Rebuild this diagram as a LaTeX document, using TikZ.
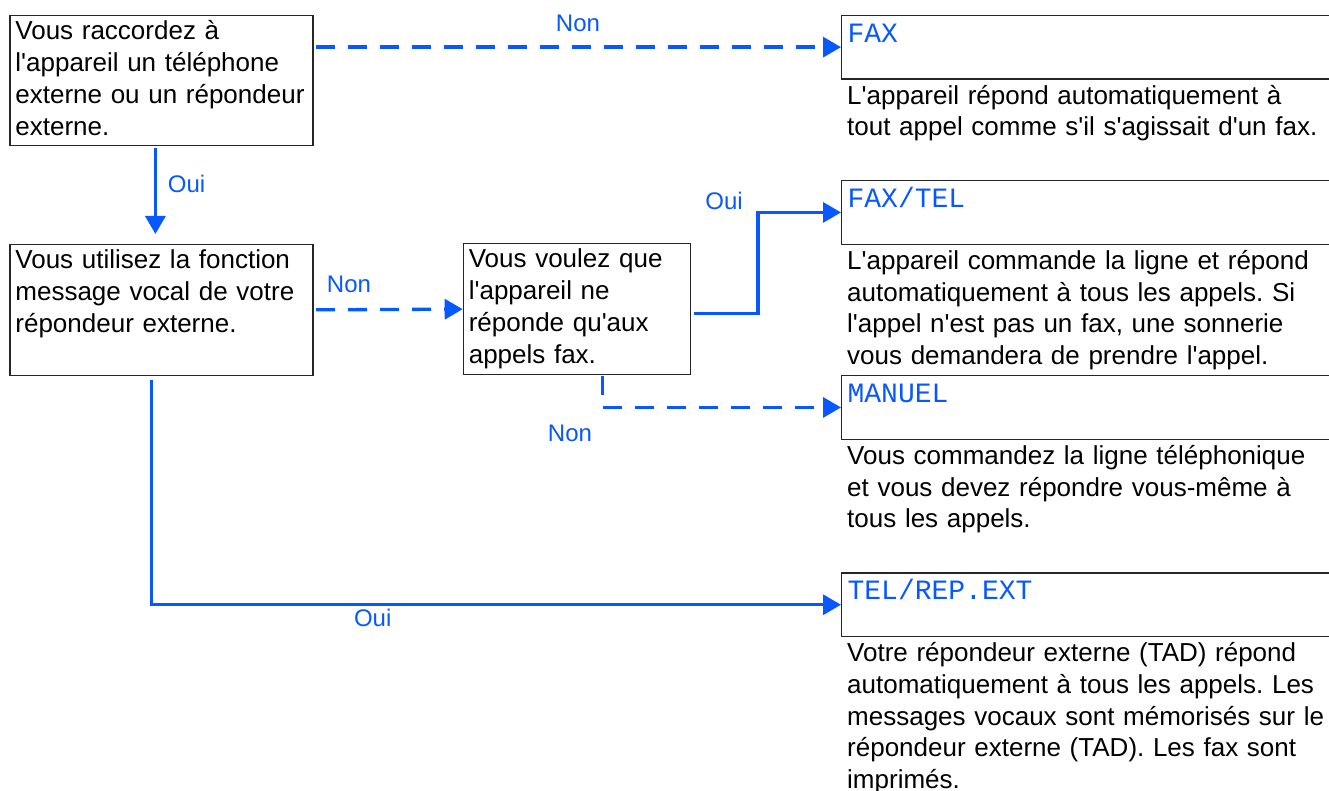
\documentclass[tikz,border=0pt]{standalone}
\usepackage{fontspec}
\setmainfont{Liberation Sans}[Ligatures=TeXOff]
\setmonofont{Liberation Mono}
\usepackage{tikz}
\usetikzlibrary{arrows.meta, positioning}
\definecolor{linkblue}{RGB}{8,88,255}
\frenchspacing

\begin{document}
\begin{tikzpicture}[
    x=1pt, y=-1pt,
    every node/.style={font=\fontsize{26}{32}\selectfont},
    qbox/.style={draw=black!85, line width=1.2pt, anchor=north west, align=left,
        text width=292pt, inner xsep=5.5pt, inner ysep=4pt,
        text height=20pt, text depth=102.5pt},
    modebox/.style={draw=black!85, line width=1.2pt, anchor=north west, align=left,
        text width=500pt, inner xsep=6pt, inner ysep=4pt,
        text height=23pt, text depth=32.7pt,
        font=\fontsize{28}{32}\selectfont\ttfamily, text=linkblue},
    desc/.style={align=left, text width=520pt, inner sep=0pt,
        text height=20pt, font=\fontsize{26}{31.6}\selectfont},
    lbl/.style={font=\fontsize{24}{28}\selectfont, text=linkblue, inner sep=0pt},
    yesline/.style={-{Triangle[length=18pt, width=20pt]}, line width=3.3pt, linkblue},
    noline/.style={yesline, dash pattern=on 19pt off 13pt}
]

\def\colx{841}   % 右列左边
\def\gap{4.5pt}  % 模式框与说明间距

\useasboundingbox (0,0) rectangle (1329,791);
\clip (0,0) rectangle (1329,791);

% 问题框
\node[qbox] (qa) at (9.3,14.7) {Vous raccordez à\\l'appareil un téléphone\\externe ou un répondeur\\externe.};
\node[qbox] (qb) at (9.3,244) {Vous utilisez la fonction\\message vocal de votre\\répondeur externe.};
\node[qbox, text width=216pt] (qc) at (462.7,243.3) {Vous voulez que\\l'appareil ne\\réponde qu'aux\\appels fax.};

% 模式框（右边被裁掉）
\node[modebox] (fax)    at (\colx,14.7)  {FAX};
\node[modebox] (faxtel) at (\colx,180)   {FAX/TEL};
\node[modebox] (manuel) at (\colx,375)   {MANUEL};
\node[modebox] (telrep) at (\colx,572.3) {TEL/REP.EXT};

% 说明文字
\node[desc, below right=\gap and 6pt of fax.south west] (faxtxt)
    {L'appareil répond automatiquement à\\tout appel comme s'il s'agissait d'un fax.};
\node[desc, below right=\gap and 6pt of faxtel.south west] (faxteltxt)
    {L'appareil commande la ligne et répond\\automatiquement à tous les appels. Si\\l'appel n'est pas un fax, une sonnerie\\vous demandera de prendre l'appel.};
\node[desc, below right=\gap and 6pt of manuel.south west] (manueltxt)
    {Vous commandez la ligne téléphonique\\et vous devez répondre vous-même à\\tous les appels.};
\node[desc, below right=\gap and 6pt of telrep.south west] (telreptxt)
    {Votre répondeur externe (TAD) répond\\automatiquement à tous les appels. Les\\messages vocaux sont mémorisés sur le\\répondeur externe (TAD). Les fax sont\\imprimés.};

% 连接线
\draw[noline, shorten <=2.5pt] (qa.east |- fax.west) -- (fax.west);
\draw[yesline, shorten <=1.5pt, shorten >=10pt] ([xshift=-6pt]qa.south) -- ([xshift=-6pt]qb.north);
\draw[noline, shorten <=2.5pt] (qb.east) -- (qc.west);
\draw[yesline, shorten <=3pt] ([yshift=-4pt]qc.east) -- ++(67,0) |- (faxtel.west);
\draw[noline, shorten <=1pt] ([xshift=25.5pt]qc.south) |- (manuel.west);
\draw[yesline, shorten <=4.5pt] ([xshift=-10pt]qb.south) |- (telrep.west);

% 标注
\node[lbl] (nonfax)    at (578,23)     {Non};
\node[lbl] (ouiqb)     at (186.5,183.5) {Oui};
\node[lbl] (nonqc)     at (349,284)    {Non};
\node[lbl] (ouifaxtel) at (724,201)    {Oui};
\node[lbl] (nonmanuel) at (570,433.5)  {Non};
\node[lbl] (ouitelrep) at (372.7,618)  {Oui};

\end{tikzpicture}
\end{document}
